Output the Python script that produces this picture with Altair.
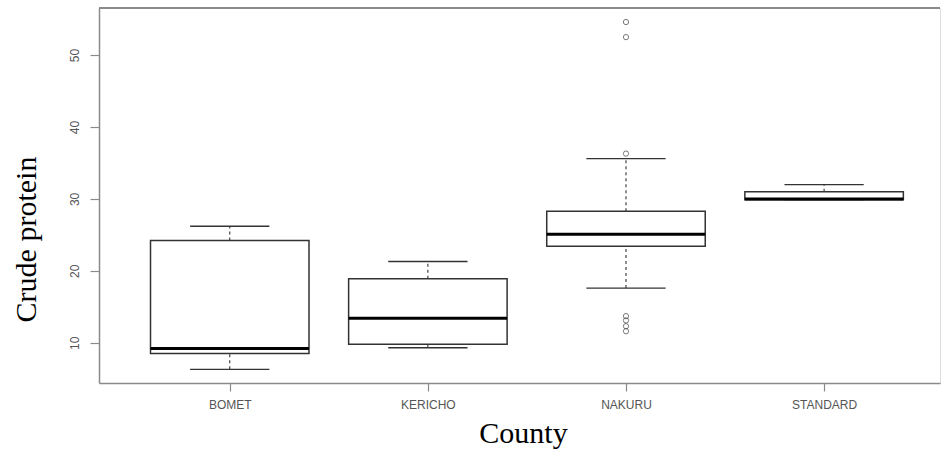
import json
import altair as alt
import pandas as pd

# ---- data ----
counties = ["BOMET", "KERICHO", "NAKURU", "STANDARD"]
lower_whisker = [6.3, 9.3, 17.6, 29.9]
q1 = [8.5, 9.8, 23.4, 29.9]
median = [9.2, 13.4, 25.1, 30.0]
q3 = [24.2, 18.9, 28.3, 31.0]
upper_whisker = [26.2, 21.3, 35.6, 32.0]

outlier_county = ["NAKURU", "NAKURU", "NAKURU", "NAKURU", "NAKURU", "NAKURU", "NAKURU"]
outlier_value = [54.6, 52.5, 36.3, 13.7, 13.1, 12.3, 11.6]

y_ticks = [10, 20, 30, 40, 50]

# ---- tables ----
stats = pd.DataFrame({
    "county": counties,
    "idx": list(range(1, len(counties) + 1)),
    "lo": lower_whisker,
    "q1": q1,
    "med": median,
    "q3": q3,
    "hi": upper_whisker,
})
outl = pd.DataFrame({
    "county": outlier_county,
    "idx": [counties.index(c) + 1 for c in outlier_county],
    "value": outlier_value,
})

W, H = 841, 375
FRAME = "#8a8a8a"
LINE = "#333333"

x_scale = alt.Scale(domain=[0.34, 4.585], nice=False, zero=False)
y_scale = alt.Scale(domain=[4.4, 56.55], nice=False, zero=False)

label_expr = f"{json.dumps(counties)}[datum.value - 1]"

x_axis = alt.Axis(
    values=[1, 2, 3, 4], labelExpr=label_expr, grid=False,
    domainColor=FRAME, domainWidth=1.5, tickColor=FRAME, tickSize=8, tickWidth=1.2,
    labelFont="Liberation Sans", labelFontSize=12, labelColor="#555555", labelPadding=8,
    title="County", titleFont="Liberation Serif", titleFontSize=30, titleFontWeight="normal",
    titleColor="#000000", titleX=424, titleY=59, titleBaseline="alphabetic", titleAlign="center",
)
y_axis = alt.Axis(
    values=y_ticks, format="d", grid=False,
    domainColor=FRAME, domainWidth=1.5, tickColor=FRAME, tickSize=9, tickWidth=1.2,
    labelFont="Liberation Sans", labelFontSize=12, labelColor="#555555",
    labelAngle=270, labelAlign="center", labelBaseline="alphabetic", labelPadding=12,
    title="Crude protein", titleFont="Liberation Serif", titleFontSize=30, titleFontWeight="normal",
    titleColor="#000000", titleAngle=270, titleX=-64, titleY=231,
    titleBaseline="alphabetic", titleAlign="center",
)


def X(field):
    return alt.X(f"{field}:Q", scale=x_scale, axis=x_axis, title="County")


def Y(field):
    return alt.Y(f"{field}:Q", scale=y_scale, axis=y_axis, title="Crude protein")


base = alt.Chart(stats).transform_calculate(
    xl="datum.idx - 0.4", xr="datum.idx + 0.4",
    cl="datum.idx - 0.2", cr="datum.idx + 0.2",
)

top_line = alt.Chart(stats).mark_rule(color=FRAME, strokeWidth=1.5).encode(
    x=alt.value(0), x2=alt.value(W), y=alt.value(0)
)

whisk_up = base.mark_rule(color=LINE, strokeWidth=1.1, strokeDash=[3, 3]).encode(
    x=X("idx"), y=Y("q3"), y2="hi:Q"
)
whisk_lo = base.mark_rule(color=LINE, strokeWidth=1.1, strokeDash=[3, 3]).encode(
    x=X("idx"), y=Y("lo"), y2="q1:Q"
)
cap_up = base.mark_rule(color=LINE, strokeWidth=1.3).encode(
    x=X("cl"), x2="cr:Q", y=Y("hi")
)
cap_lo = base.mark_rule(color=LINE, strokeWidth=1.3).encode(
    x=X("cl"), x2="cr:Q", y=Y("lo")
)
boxes = base.mark_rect(fill="white", stroke=LINE, strokeWidth=1.5).encode(
    x=X("xl"), x2="xr:Q", y=Y("q1"), y2="q3:Q"
)
med = base.mark_rule(color="#000000", strokeWidth=3).encode(
    x=X("xl"), x2="xr:Q", y=Y("med")
)
pts = alt.Chart(outl).mark_point(shape="circle", filled=False, color="#444444",
                                 size=28, strokeWidth=1).encode(
    x=X("idx"), y=Y("value")
)

chart = alt.layer(
    whisk_up, whisk_lo, cap_up, cap_lo, boxes, med, pts, top_line
).properties(
    width=W, height=H,
    padding={"left": 99, "top": 8, "right": 1, "bottom": 66},
    autosize=alt.AutoSizeParams(type="none"),
).configure_view(stroke=None).configure(background="white")

chart.save("out.html", embed_options={"renderer": "svg", "actions": False})
